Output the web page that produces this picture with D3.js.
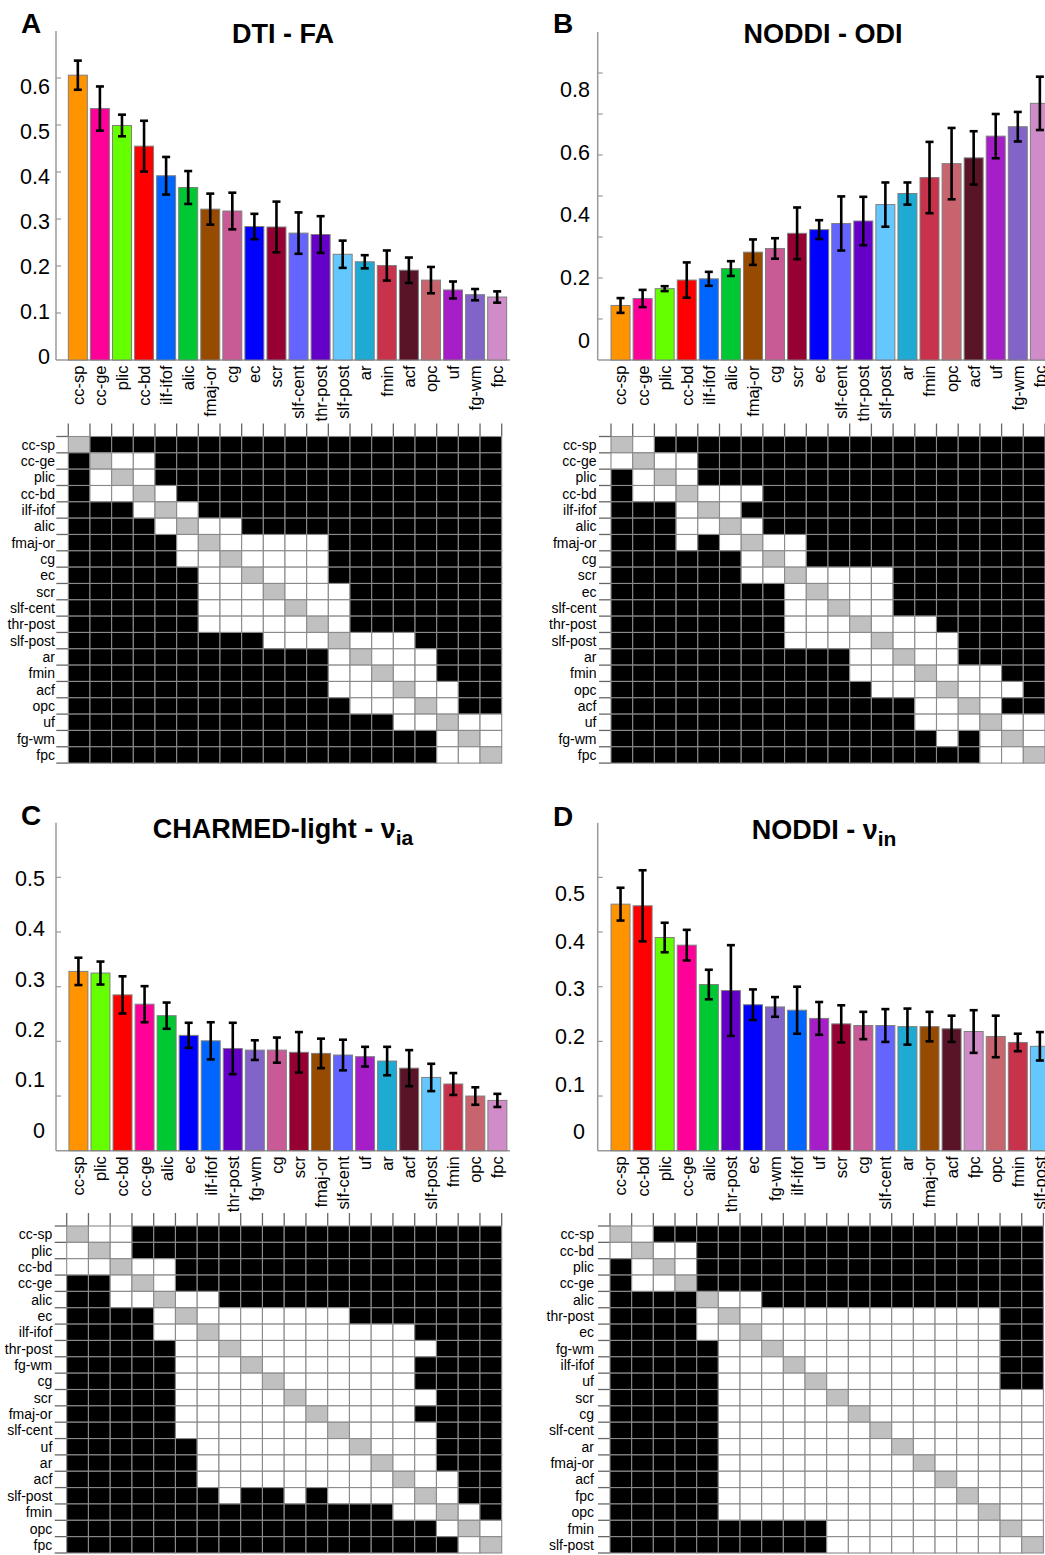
<!DOCTYPE html>
<html>
<head>
<meta charset="utf-8">
<script src="https://cdn.jsdelivr.net/npm/d3@7"></script>
<style>
  body { margin: 0; background: #fff; }
  text { font-family: "Liberation Sans", Arial, sans-serif; }
</style>
</head>
<body>
<svg id="fig" width="1045" height="1555"></svg>
<script>
const svg = d3.select("#fig");

// tract colours (same for every panel)
const tracts = ["cc-sp", "cc-ge", "plic", "cc-bd", "ilf-ifof", "alic", "fmaj-or", "cg", "ec", "scr",
  "slf-cent", "thr-post", "slf-post", "ar", "fmin", "acf", "opc", "uf", "fg-wm", "fpc"];
const tractColors = ["#ff9400", "#ff0099", "#66ff00", "#ff0000", "#0066ff", "#00c832", "#964b00", "#c85a96", "#0000ff", "#960032",
  "#6464ff", "#6400c8", "#64c8ff", "#1eaad2", "#c8324b", "#5a1428", "#c8646e", "#a61ec8", "#8264c8", "#d08cc8"];
const color = d3.scaleOrdinal().domain(tracts).range(tractColors);

// A: DTI - FA
const catsA = ["cc-sp", "cc-ge", "plic", "cc-bd", "ilf-ifof", "alic", "fmaj-or", "cg", "ec", "scr",
  "slf-cent", "thr-post", "slf-post", "ar", "fmin", "acf", "opc", "uf", "fg-wm", "fpc"];
const meanA = [0.606, 0.535, 0.499, 0.455, 0.392, 0.367, 0.321, 0.317, 0.284, 0.283,
  0.270, 0.267, 0.225, 0.209, 0.201, 0.191, 0.170, 0.149, 0.139, 0.134];
const errA = [0.031, 0.047, 0.023, 0.054, 0.040, 0.035, 0.033, 0.039, 0.027, 0.054,
  0.044, 0.039, 0.029, 0.014, 0.032, 0.027, 0.028, 0.018, 0.012, 0.012];
const tickLabelsA = [0, 0.1, 0.2, 0.3, 0.4, 0.5, 0.6];

// B: NODDI - ODI
const catsB = ["cc-sp", "cc-ge", "plic", "cc-bd", "ilf-ifof", "alic", "fmaj-or", "cg", "scr", "ec",
  "slf-cent", "thr-post", "slf-post", "ar", "fmin", "opc", "acf", "uf", "fg-wm", "fpc"];
const meanB = [0.133, 0.150, 0.174, 0.195, 0.198, 0.223, 0.263, 0.272, 0.309, 0.318,
  0.333, 0.339, 0.379, 0.406, 0.445, 0.479, 0.493, 0.546, 0.569, 0.626];
const errB = [0.018, 0.021, 0.006, 0.043, 0.017, 0.018, 0.031, 0.025, 0.063, 0.023,
  0.066, 0.059, 0.054, 0.027, 0.087, 0.087, 0.065, 0.054, 0.036, 0.065];
const tickLabelsB = [0, 0.2, 0.4, 0.6, 0.8];

// C: CHARMED-light - v_ia
const catsC = ["cc-sp", "plic", "cc-bd", "cc-ge", "alic", "ec", "ilf-ifof", "thr-post", "fg-wm", "cg",
  "scr", "fmaj-or", "slf-cent", "uf", "ar", "acf", "slf-post", "fmin", "opc", "fpc"];
const meanC = [0.328, 0.325, 0.285, 0.268, 0.247, 0.211, 0.201, 0.187, 0.184, 0.184,
  0.180, 0.178, 0.175, 0.172, 0.164, 0.151, 0.134, 0.122, 0.100, 0.092];
const errC = [0.025, 0.021, 0.034, 0.033, 0.024, 0.023, 0.034, 0.047, 0.018, 0.023,
  0.037, 0.027, 0.028, 0.018, 0.026, 0.033, 0.025, 0.020, 0.016, 0.012];
const tickLabelsC = [0, 0.1, 0.2, 0.3, 0.4, 0.5];

// D: NODDI - v_in
const catsD = ["cc-sp", "cc-bd", "plic", "cc-ge", "alic", "thr-post", "ec", "fg-wm", "ilf-ifof", "uf",
  "scr", "cg", "slf-cent", "ar", "fmaj-or", "acf", "fpc", "opc", "fmin", "slf-post"];
const meanD = [0.451, 0.448, 0.390, 0.376, 0.304, 0.293, 0.267, 0.263, 0.257, 0.242,
  0.232, 0.229, 0.229, 0.227, 0.227, 0.223, 0.218, 0.209, 0.198, 0.191];
const errD = [0.030, 0.065, 0.027, 0.028, 0.027, 0.083, 0.028, 0.018, 0.043, 0.030,
  0.034, 0.025, 0.030, 0.033, 0.027, 0.024, 0.039, 0.038, 0.016, 0.026];
const tickLabelsD = [0, 0.1, 0.2, 0.3, 0.4, 0.5];

// pairwise test matrices: 0 = significant (black), 1 = n.s. (white), 2 = diagonal
const matA = [
  "20000000000000000000", "02110000000000000000", "01210000000000000000", "01121000000000000000",
  "00012100000000000000", "00001211000000000000", "00000121111100000000", "00000112111100000000",
  "00000011211100000000", "00000011121110000000", "00000011112110000000", "00000011111210000000",
  "00000000011121110000", "00000000000012111000", "00000000000011211000", "00000000000011121100",
  "00000000000001112100", "00000000000000011211", "00000000000000000121", "00000000000000000112"];
const matB = [
  "21000000000000000000", "12110000000000000000", "01210000000000000000", "01121110000000000000",
  "00012100000000000000", "00011210000000000000", "00010121100000000000", "00000012100000000000",
  "00000011211110000000", "00000000121110000000", "00000000112110000000", "00000000111211100000",
  "00000000111121110000", "00000000000112110000", "00000000000111211100", "00000000000011121110",
  "00000000000000112100", "00000000000000111211", "00000000000000010121", "00000000000000000112"];
const matC = [
  "21100000000000000000", "12100000000000000000", "11211000000000000000", "00121000000000000000",
  "00112110000000000000", "00001211111110000000", "00001121111111110000", "00000112111111111000",
  "00000111211111110000", "00000111121111110000", "00000111112111111000", "00000111111211110000",
  "00000111111121111000", "00000011111112111000", "00000011111111211000", "00000011111111121100",
  "00000001001011112100", "00000000000000011210", "00000000000000000121", "00000000000000000012"];
const matD = [
  "21000000000000000000", "12110000000000000000", "01210000000000000000", "01120000000000000000",
  "00002110000000000000", "00001211111111111100", "00001121111111111100", "00000112111111111100",
  "00000111211111111100", "00000111121111111100", "00000111112111111111", "00000111111211111111",
  "00000111111121111111", "00000111111112111111", "00000111111111211111", "00000111111111121111",
  "00000111111111112111", "00000111111111111211", "00000000001111111121", "00000000001111111112"];

const panels = [
  { letter: "A", lx: 21, ly: 33, title: "DTI - FA", sub: null, tx: 283, ty: 43,
    axisX: 56, yBase: 360, yTop: 31, yMax: 0.7, x0: 66.8, x1: 508.2, baseEnd: 510,
    cats: catsA, mean: meanA, err: errA, labels: tickLabelsA,
    lblRight: 50, lblPos: [356, 86.7],
    mat: matA, mx: 68.3, my: 436.5, cw: 21.67, ch: 16.33, mLblRight: 55 },
  { letter: "B", lx: 553, ly: 33, title: "NODDI - ODI", sub: null, tx: 823, ty: 43,
    axisX: 597.7, yBase: 360, yTop: 32, yMax: 0.8, x0: 609.5, x1: 1050.9, baseEnd: 1045,
    cats: catsB, mean: meanB, err: errB, labels: tickLabelsB,
    lblRight: 590, lblPos: [340, 89.3],
    mat: matB, mx: 611, my: 436.5, cw: 21.7, ch: 16.33, mLblRight: 596.5 },
  { letter: "C", lx: 21, ly: 825, title: "CHARMED-light - \u03bd", sub: "ia", tx: 283, ty: 838,
    axisX: 56, yBase: 1150.7, yTop: 822.7, yMax: 0.6, x0: 67.4, x1: 508.4, baseEnd: 510,
    cats: catsC, mean: meanC, err: errC, labels: tickLabelsC,
    lblRight: 45, lblPos: [1130, 878.3],
    mat: matC, mx: 66.7, my: 1226, cw: 21.75, ch: 16.35, mLblRight: 52.3 },
  { letter: "D", lx: 553, ly: 826, title: "NODDI - \u03bd", sub: "in", tx: 824, ty: 839,
    axisX: 597.7, yBase: 1150.7, yTop: 822.7, yMax: 0.6, x0: 609.5, x1: 1050.9, baseEnd: 1045,
    cats: catsD, mean: meanD, err: errD, labels: tickLabelsD,
    lblRight: 585, lblPos: [1131.7, 893.3],
    mat: matD, mx: 610, my: 1226, cw: 21.67, ch: 16.35, mLblRight: 594 }
];

const fmt = (d) => (d === 0 ? "0" : d3.format(".1f")(d));

function drawPanel(p) {
  const g = svg.append("g");

  // panel letter and title
  g.append("text")
    .attr("x", p.lx).attr("y", p.ly)
    .attr("font-size", 28).attr("font-weight", "bold")
    .text(p.letter);

  const title = g.append("text")
    .attr("x", p.tx).attr("y", p.ty)
    .attr("text-anchor", "middle")
    .attr("font-size", 27).attr("font-weight", "bold")
    .text(p.title);
  if (p.sub) {
    title.append("tspan").attr("font-size", 21).attr("dy", 7).text(p.sub);
  }

  // scales
  const x = d3.scaleBand().domain(p.cats).range([p.x0, p.x1])
    .paddingInner(0.14).paddingOuter(0.07);
  const y = d3.scaleLinear().domain([0, p.yMax]).range([p.yBase, p.yTop]);
  const yLabel = d3.scaleLinear()
    .domain([0, p.labels[p.labels.length - 1]]).range(p.lblPos);

  // axes (MATLAB-like grey lines)
  g.append("line")
    .attr("x1", p.axisX).attr("x2", p.axisX)
    .attr("y1", p.yTop).attr("y2", p.yBase)
    .attr("stroke", "#9a9a9a").attr("stroke-width", 1.5);
  g.append("line")
    .attr("x1", p.axisX).attr("x2", p.baseEnd)
    .attr("y1", p.yBase).attr("y2", p.yBase)
    .attr("stroke", "#9a9a9a").attr("stroke-width", 1.5);

  g.selectAll(".tick")
    .data(d3.range(1, Math.round(p.yMax * 10)).map((k) => k / 10))
    .enter().append("line")
    .attr("x1", p.axisX).attr("x2", p.axisX + 5)
    .attr("y1", (d) => y(d)).attr("y2", (d) => y(d))
    .attr("stroke", "#9a9a9a").attr("stroke-width", 1.2);

  g.selectAll(".ylab")
    .data(p.labels)
    .enter().append("text")
    .attr("x", p.lblRight).attr("y", (d) => yLabel(d))
    .attr("dy", "0.36em")
    .attr("text-anchor", "end")
    .attr("font-size", 21.5)
    .text(fmt);

  // bars
  g.selectAll(".bar")
    .data(p.cats)
    .enter().append("rect")
    .attr("x", (d) => x(d))
    .attr("y", (d, i) => y(p.mean[i]))
    .attr("width", x.bandwidth())
    .attr("height", (d, i) => p.yBase - y(p.mean[i]))
    .attr("fill", (d) => color(d))
    .attr("stroke", "#7f7f7f").attr("stroke-width", 1);

  // error bars
  const eb = g.selectAll(".err")
    .data(p.cats)
    .enter().append("g")
    .attr("stroke", "#000").attr("stroke-width", 2.6);
  eb.append("line")
    .attr("x1", (d) => x(d) + x.bandwidth() / 2).attr("x2", (d) => x(d) + x.bandwidth() / 2)
    .attr("y1", (d, i) => y(p.mean[i] + p.err[i]))
    .attr("y2", (d, i) => y(p.mean[i] - p.err[i]));
  [1, -1].forEach((s) => {
    eb.append("line")
      .attr("x1", (d) => x(d) + x.bandwidth() / 2 - 4)
      .attr("x2", (d) => x(d) + x.bandwidth() / 2 + 4)
      .attr("y1", (d, i) => y(p.mean[i] + s * p.err[i]))
      .attr("y2", (d, i) => y(p.mean[i] + s * p.err[i]));
  });

  // rotated category labels
  g.selectAll(".xlab")
    .data(p.cats)
    .enter().append("text")
    .attr("transform", (d) => `translate(${x(d) + x.bandwidth() / 2},${p.yBase + 5.5}) rotate(-90)`)
    .attr("dy", "0.36em")
    .attr("text-anchor", "end")
    .attr("font-size", 16.5)
    .text((d) => d);

  // significance matrix
  const n = p.cats.length;
  const mxs = d3.scaleBand().domain(p.cats).range([p.mx, p.mx + n * p.cw]);
  const mys = d3.scaleBand().domain(p.cats).range([p.my, p.my + n * p.ch]);
  const cells = [];
  p.mat.forEach((row, r) => {
    row.split("").forEach((v, c) => cells.push({ r: p.cats[r], c: p.cats[c], v: +v }));
  });
  const fillOf = ["#000000", "#ffffff", "#c0c0c0"];

  // ticks above / left of the matrix
  g.selectAll(".mtx")
    .data(d3.range(n + 1))
    .enter().append("line")
    .attr("x1", (k) => p.mx + k * mxs.step()).attr("x2", (k) => p.mx + k * mxs.step())
    .attr("y1", p.my - 13).attr("y2", p.my)
    .attr("stroke", "#666").attr("stroke-width", 1.3);
  g.selectAll(".mty")
    .data(d3.range(n + 1))
    .enter().append("line")
    .attr("x1", p.mx - 12).attr("x2", p.mx)
    .attr("y1", (k) => p.my + k * mys.step()).attr("y2", (k) => p.my + k * mys.step())
    .attr("stroke", "#666").attr("stroke-width", 1.3);

  g.selectAll(".cell")
    .data(cells)
    .enter().append("rect")
    .attr("x", (d) => mxs(d.c)).attr("y", (d) => mys(d.r))
    .attr("width", mxs.bandwidth()).attr("height", mys.bandwidth())
    .attr("fill", (d) => fillOf[d.v])
    .attr("stroke", "#8a8a8a").attr("stroke-width", 1.1);

  g.selectAll(".mlab")
    .data(p.cats)
    .enter().append("text")
    .attr("x", p.mLblRight)
    .attr("y", (d) => mys(d) + mys.bandwidth() / 2)
    .attr("dy", "0.36em")
    .attr("text-anchor", "end")
    .attr("font-size", 14)
    .text((d) => d);
}

panels.forEach(drawPanel);
</script>
</body>
</html>
